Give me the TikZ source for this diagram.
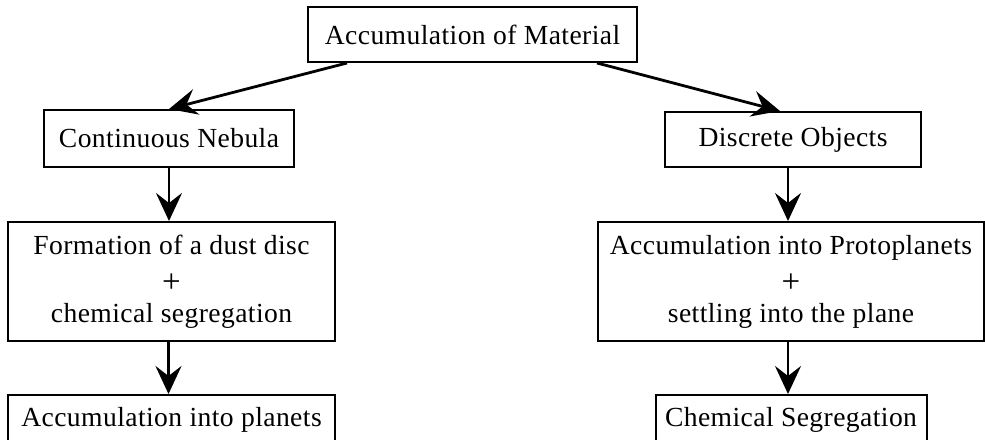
\documentclass[tikz,border=0pt]{standalone}
\usepackage{fontspec}
\setmainfont{Liberation Serif}[LetterSpace=1.5]
\usetikzlibrary{arrows.meta, positioning}

\newcommand{\bigplus}{\raisebox{-2pt}{\fontsize{16.5}{17}\selectfont +}}

\begin{document}
\begin{tikzpicture}[
      font=\fontsize{13.8}{17}\selectfont,
      box/.style={rectangle, draw, line width=1pt, align=center, inner sep=0pt},
      line/.style={draw, line width=1.4pt,
                   -{Stealth[length=14pt, width=13pt, inset=5pt]}}
  ]
      \useasboundingbox (0,0) rectangle (492.5pt,-219.5pt);

      \node (material) [box, minimum width=164.5pt, minimum height=27.5pt]
          at (236.25pt,-17.25pt) {Accumulation of Material};
      \node (nebula)   [box, minimum width=125pt, minimum height=28.5pt,
                        below=23pt of material, xshift=-151.75pt] {Continuous Nebula};
      \node (discrete) [box, minimum width=128pt, minimum height=27.5pt,
                        below=24pt of material, xshift=160.25pt] {Discrete Objects};
      \node (disc)     [box, minimum width=163.5pt, minimum height=59.5pt,
                        below=26.5pt of nebula, xshift=1.25pt]
          {Formation of a dust disc \\ \bigplus \\ chemical segregation};
      \node (proto)    [box, minimum width=193pt, minimum height=59.5pt,
                        below=26.5pt of discrete, xshift=-1pt]
          {Accumulation into Protoplanets \\ \bigplus \\ settling into the plane};
      \node (planets)  [box, minimum width=163.5pt, minimum height=24.5pt,
                        below=26pt of disc] {Accumulation into planets};
      \node (chemseg)  [box, minimum width=135.5pt, minimum height=24.5pt,
                        below=26pt of proto] {Chemical Segregation};

      \path [line] ([xshift=-62.75pt]material.south) -- (nebula.north);
      \path [line] ([xshift=62.25pt]material.south) -- ([xshift=-6.5pt]discrete.north);

      \path [line] (nebula.south) -- (nebula.south |- disc.north);
      \path [line] ([xshift=-1.5pt]disc.south) -- ([xshift=-1.5pt]planets.north);

      \coordinate (right_x) at ([xshift=-2.5pt]discrete.south);
      \path [line] (right_x) -- (right_x |- proto.north);
      \path [line] (right_x |- proto.south) -- (right_x |- chemseg.north);
  \end{tikzpicture}
\end{document}
